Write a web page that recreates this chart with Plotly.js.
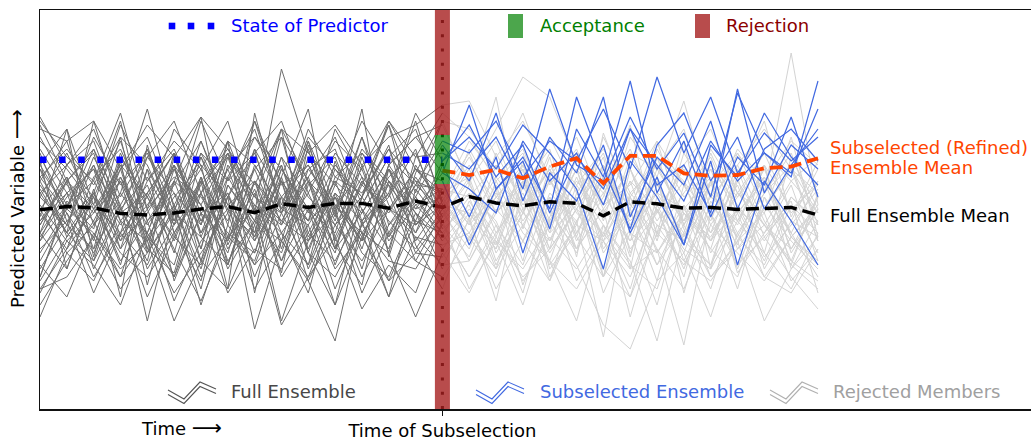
<!DOCTYPE html>
<html>
<head>
<meta charset="utf-8">
<script src="https://cdn.plot.ly/plotly-3.0.1.min.js"></script>
<style>
  html, body { margin: 0; padding: 0; background: #ffffff; }
  #chart { width: 1031px; height: 441px; }
</style>
</head>
<body>
<div id="chart"></div>
<script>
// ---------------- DATA ----------------
const timeSteps = [0,1,2,3,4,5,6,7,8,9,10,11,12,13,14,15,16,17,18,19,20,21,22,23,24,25,26,27,28,29];
const subselIndex = 15;
const predictorState = 62.3;
const acceptBand = [56.25, 68.5];
const yRange = [0, 99.75];

// Full ensemble mean, one value per time step
const fullMean = [49.8,50.6,50.3,48.9,48.5,49.0,50.0,50.6,49.1,51.3,50.4,51.4,51.4,50.2,52.0,50.4,
                  53.1,51.5,50.8,51.8,51.4,48.3,51.8,51.3,50.2,50.4,49.9,50.2,50.4,48.5];
// Subselected (refined) ensemble mean, from the time of subselection onward
const subMean = [59.6,58.5,59.8,57.7,60.6,62.7,56.4,63.3,63.3,58.9,58.3,58.5,60.2,60.6,62.7];

// Ensemble members (values at each time step)
const members = [
 [53,46,61,42,57,65,49,54,39,60,50,44,64,56,47,62,71,58,66,49,63,55,70,61,52,67,57,64,59,75],
 [42,57,35,50,44,61,37,53,64,46,57,40,49,60,53,66,57,74,52,68,59,78,48,63,56,72,50,65,70,62],
 [64,47,54,72,43,53,61,36,57,49,67,51,42,61,68,59,76,55,62,45,70,58,82,54,67,48,63,56,73,53],
 [33,51,43,60,39,49,30,56,46,61,42,53,35,57,44,61,48,63,39,59,52,66,44,58,41,62,36,57,47,36],
 [57,67,46,54,75,50,60,43,65,53,47,70,58,39,63,64,60,68,55,80,61,57,73,60,69,53,79,64,58,82],
 [49,40,58,65,50,33,54,63,44,68,57,46,53,72,60,57,41,55,63,50,78,60,45,66,74,57,68,50,61,70],
 [68,56,49,61,53,64,43,58,70,50,60,65,47,54,74,62,68,60,71,64,55,35,62,53,41,66,58,74,63,56],
 [44,61,53,36,60,47,67,51,57,42,63,50,68,46,56,67,64,72,58,67,62,75,60,83,64,78,59,69,62,68],
 [60,50,65,47,42,57,51,64,49,61,39,58,54,65,50,59,55,49,67,57,64,51,70,56,61,49,80,54,66,60],
 [73,61,70,53,65,49,72,57,64,72,54,67,60,72,63,74,68,57,64,47,60,51,56,67,46,61,53,64,49,57],
 [23,39,32,47,28,43,36,53,20,42,33,50,29,44,37,33,43,33,53,37,22,46,36,30,49,40,33,51,42,35],
 [50,58,42,64,47,54,37,61,51,46,67,43,57,49,60,52,44,56,37,61,49,42,57,50,35,54,46,61,39,50],
 [44,35,54,40,60,32,49,42,57,37,50,30,46,56,39,48,58,39,50,32,54,64,44,26,51,42,58,35,47,43],
 [61,70,51,71,57,67,60,72,49,85,64,56,72,61,68,71,57,67,50,60,43,61,35,65,53,60,42,54,64,46],
 [39,50,44,33,54,42,58,37,47,57,35,51,42,60,46,54,64,49,58,42,53,33,60,47,57,39,50,44,56,37],
 [56,46,63,50,39,60,44,54,33,49,58,40,61,43,53,44,33,46,29,53,40,50,23,46,36,49,30,53,37,32],
 [32,43,53,37,47,27,42,50,36,44,29,54,39,33,49,40,49,40,60,35,44,54,42,50,33,57,43,36,51,44],
 [65,54,47,60,68,51,63,46,72,56,61,49,65,57,50,53,42,61,49,68,54,43,63,53,44,64,49,57,40,53],
 [47,57,64,43,51,61,40,67,50,37,56,63,46,53,65,45,51,35,57,44,63,40,50,32,56,44,61,47,36,54],
 [72,63,57,74,50,70,61,53,68,60,49,64,56,71,54,72,70,60,74,56,65,47,68,58,77,53,61,70,60,49],
 [36,28,44,35,42,22,37,30,46,21,33,43,25,36,29,47,30,42,26,47,36,21,15,32,39,23,44,33,29,40],
 [58,49,39,54,44,61,51,36,57,47,42,60,50,40,61,50,60,44,54,39,50,61,46,57,37,51,43,57,47,60],
 [43,53,60,49,65,44,56,64,42,53,61,47,68,51,44,55,46,64,51,60,42,53,71,43,61,46,56,39,63,50],
 [53,64,50,58,46,56,67,49,60,68,44,57,51,63,70,52,63,51,67,57,46,68,54,61,47,65,54,49,68,43],
 [29,42,36,26,44,33,49,29,40,35,46,26,43,32,39,38,47,30,42,53,32,44,35,40,16,49,36,43,33,25],
 [63,51,57,46,54,64,47,60,43,63,53,46,58,50,57,47,54,43,61,50,39,57,47,54,43,60,51,42,53,47],
 [46,58,40,63,53,43,57,47,65,40,60,51,44,54,37,49,40,57,44,37,56,46,30,53,42,36,57,46,40,50],
 [70,67,72,60,71,63,73,65,56,70,64,71,61,68,71,76,77,63,72,58,68,51,64,60,70,50,65,57,67,61],
 [40,47,29,44,36,51,33,43,50,22,42,49,33,46,53,42,50,42,35,46,53,29,44,39,51,33,42,49,32,40],
 [60,43,53,67,47,57,40,63,53,49,65,42,56,50,60,54,47,58,65,49,40,60,50,67,56,44,53,61,50,56],
 [30,33,43,30,39,50,26,46,36,53,32,17,47,28,43,36,37,50,42,32,47,18,53,40,30,46,39,32,43,36],
 [50,39,46,57,35,46,54,42,60,44,36,53,43,57,49,43,56,46,36,54,47,58,40,49,60,42,50,37,53,46],
 [67,60,51,44,63,54,46,64,53,70,57,50,60,42,51,55,53,61,47,57,64,50,60,44,54,63,47,58,43,51],
 [42,51,61,47,56,39,63,50,43,58,40,56,49,60,42,52,42,53,60,44,51,63,39,56,47,57,44,54,61,42],
 [54,44,37,58,42,51,35,56,47,39,57,36,53,43,58,48,57,37,49,42,58,43,53,36,50,40,60,43,51,39],
 [58,65,56,68,61,46,64,57,72,51,68,60,53,65,57,54,58,70,83,78,61,54,65,49,61,70,54,64,57,63],
 [35,46,40,51,22,49,43,36,54,33,44,37,50,32,47,44,33,44,53,36,46,42,33,50,40,35,47,39,30,44],
 [47,54,60,40,50,58,53,44,39,57,47,53,42,50,46,51,49,40,57,46,60,39,49,57,42,53,47,60,43,50],
 [51,42,49,57,43,36,58,40,51,44,54,40,57,47,40,50,43,53,46,58,40,50,42,60,49,43,54,46,57,49],
 [71,57,65,51,63,72,54,67,61,50,70,58,64,53,72,51,61,49,56,65,44,58,51,63,46,56,64,50,60,54],
 [26,37,47,33,43,29,39,49,30,42,51,35,44,39,23,39,29,43,33,40,50,35,28,44,37,32,42,22,35,43],
 [46,57,50,61,40,64,47,53,44,63,43,54,47,58,64,48,65,53,61,46,57,49,60,42,64,53,49,58,44,57],
 [61,50,68,56,64,47,57,65,53,47,58,68,51,63,56,55,46,54,42,57,50,61,44,54,50,58,40,50,60,42],
 [37,49,33,44,53,40,27,43,37,57,39,33,46,37,35,46,54,47,32,43,35,46,37,17,44,36,49,33,43,37],
 [57,44,54,42,49,60,51,39,61,50,46,57,40,61,51,44,53,36,49,60,43,33,54,46,42,57,35,53,44,33],
 [44,54,37,50,58,46,64,51,42,60,50,39,63,44,56,50,37,49,57,40,50,44,57,39,49,42,54,46,37,53],
 [54,61,67,49,54,64,44,60,68,57,47,61,53,71,46,54,67,58,49,64,56,65,53,63,57,47,64,54,89,51],
 [30,40,50,39,33,44,54,35,47,42,32,46,37,50,43,41,44,35,46,37,30,42,49,36,46,33,40,46,36,30],
 [48,70,38,62,31,57,73,41,55,34,66,48,75,38,59,72,56,78,45,63,38,69,51,44,67,35,58,72,48,62],
 [62,35,55,28,66,44,32,58,47,70,39,26,53,66,41,30,48,27,56,40,64,33,45,58,29,52,41,61,35,47],
 [33,52,45,68,40,34,57,30,74,49,36,62,44,28,55,46,38,55,31,48,60,42,28,51,39,57,34,44,52,29],
 [55,44,72,50,37,63,46,67,29,58,75,41,31,60,49,35,52,41,62,33,47,56,38,63,45,30,51,38,46,55]
];

// ---------------- STYLE ----------------
const C = {
  full: '#6e6e6e', sub: '#4169e1', rej: '#d3d3d3', state: '#0000ff',
  fullMean: '#000000', subMean: '#ff4500',
  rejBar: 'rgba(166,31,31,0.8)', accBar: 'rgba(0,128,0,0.7)'
};
const FONT = 'DejaVu Sans, Liberation Sans, sans-serif';

// ---------------- TRACES ----------------
const isAccepted = m => m[subselIndex] >= acceptBand[0] && m[subselIndex] <= acceptBand[1];
const pre = timeSteps.filter(t => t <= subselIndex);
const post = timeSteps.filter(t => t >= subselIndex);
const traces = [];
members.forEach(m => {
  if (!isAccepted(m)) traces.push({x: post, y: post.map(t => m[t]), mode:'lines', line:{color:C.rej, width:1}, hoverinfo:'skip'});
});
members.forEach(m => {
  traces.push({x: pre, y: pre.map(t => m[t]), mode:'lines', line:{color:C.full, width:1}, hoverinfo:'skip'});
});
members.forEach(m => {
  if (isAccepted(m)) traces.push({x: post, y: post.map(t => m[t]), mode:'lines', line:{color:C.sub, width:1.2}, hoverinfo:'skip'});
});
traces.push({x:[pre[0], pre[pre.length-1]], y:[predictorState, predictorState], mode:'lines',
  line:{color:C.state, width:6.5, dash:'6.5px,12.6px'}, hoverinfo:'skip'});
traces.push({x: timeSteps, y: fullMean, mode:'lines', line:{color:C.fullMean, width:3.5, dash:'13px,6px'}, hoverinfo:'skip'});
traces.push({x: post, y: subMean, mode:'lines', line:{color:C.subMean, width:3.8, dash:'13px,6px'}, hoverinfo:'skip'});

// ---------------- LAYOUT ----------------
const L = 40, T = 10, W = 991, H = 399;
const X = p => (p - L) / W;
const Y = p => (T + H - p) / H;
const barHalf = 0.28;

const shapes = [
  {type:'line', xref:'x', yref:'paper', x0:subselIndex, x1:subselIndex, y0:0, y1:1,
   line:{color:'#000', width:3, dash:'3px,11.3px'}, layer:'above'},
  {type:'rect', xref:'x', yref:'y', x0:subselIndex-barHalf, x1:subselIndex+barHalf, y0:yRange[0], y1:acceptBand[0],
   fillcolor:C.rejBar, line:{width:0}, layer:'above'},
  {type:'rect', xref:'x', yref:'y', x0:subselIndex-barHalf, x1:subselIndex+barHalf, y0:acceptBand[1], y1:yRange[1],
   fillcolor:C.rejBar, line:{width:0}, layer:'above'},
  {type:'rect', xref:'x', yref:'y', x0:subselIndex-barHalf, x1:subselIndex+barHalf, y0:acceptBand[0], y1:acceptBand[1],
   fillcolor:C.accBar, line:{width:0}, layer:'above'},
  // legend patches
  {type:'rect', xref:'paper', yref:'paper', x0:X(508), x1:X(523), y0:Y(38), y1:Y(14), fillcolor:C.accBar, line:{width:0}},
  {type:'rect', xref:'paper', yref:'paper', x0:X(695), x1:X(710), y0:Y(38), y1:Y(14), fillcolor:C.rejBar, line:{width:0}}
];
// blue square markers of the predictor legend
[172, 191, 211].forEach(cx => shapes.push({type:'rect', xref:'paper', yref:'paper',
  x0:X(cx-3.3), x1:X(cx+3.3), y0:Y(29.3), y1:Y(22.7), fillcolor:C.state, line:{width:0}}));
// zigzag legend icons
function zig(x0, color) {
  const rel = [[0,8],[16,17],[32,0],[48,7]];
  [0, 4.5].forEach(off => {
    const d = rel.map((p,i) => (i ? 'L' : 'M') + X(x0 + p[0]).toFixed(5) + ',' + Y(382 + p[1] + off).toFixed(5)).join(' ');
    shapes.push({type:'path', xref:'paper', yref:'paper', path:d, line:{color:color, width:1.1}});
  });
}
zig(168, '#555555');
zig(476, C.sub);
zig(770, '#b0b0b0');

const ann = (text, px, py, color, extra) => Object.assign({text, x:X(px), y:Y(py), xref:'paper', yref:'paper',
  showarrow:false, xanchor:'left', yanchor:'middle', font:{family:FONT, size:18, color}}, extra || {});
const annotations = [
  ann('State of Predictor', 229, 25, '#0000ff'),
  ann('Acceptance', 538, 25, '#008000'),
  ann('Rejection', 724, 25, '#8b0000'),
  ann('Full Ensemble', 229, 391, '#474747'),
  ann('Subselected Ensemble', 538, 391, C.sub),
  ann('Rejected Members', 831, 391, '#a0a0a0'),
  ann('Subselected (Refined)', 828, 147, C.subMean),
  ann('Ensemble Mean', 828, 167, C.subMean),
  ann('Full Ensemble Mean', 828, 215, '#000000'),
  ann('Time <span style="font-size:21px">\u27F6</span>', 139, 428, '#000000'),
  ann('Predicted Variable <span style="font-size:21px">\u27F6</span>', 17, 209, '#000000', {xanchor:'center', textangle:-90})
];

const layout = {
  width: 1031, height: 441,
  margin: {l: L, r: 1031 - L - W, t: T, b: 441 - T - H, pad: 0},
  paper_bgcolor: '#ffffff', plot_bgcolor: '#ffffff',
  showlegend: false,
  font: {family: FONT, size: 18, color: '#000'},
  xaxis: {range: [0, 36.94], showgrid: false, zeroline: false, showline: true, mirror: true,
    linecolor: '#111', linewidth: 1.5, tickmode: 'array', tickvals: [subselIndex],
    ticktext: ['Time of Subselection'], ticks: 'outside', ticklen: 5, tickwidth: 1.2, tickcolor: '#111',
    tickfont: {family: FONT, size: 18, color: '#000'}, fixedrange: true},
  yaxis: {range: yRange, showgrid: false, zeroline: false, showline: true, mirror: false,
    linecolor: '#111', linewidth: 1.5, showticklabels: false, ticks: '', fixedrange: true},
  shapes, annotations
};

Plotly.newPlot('chart', traces, layout, {displayModeBar: false, staticPlot: true});
</script>
</body>
</html>
